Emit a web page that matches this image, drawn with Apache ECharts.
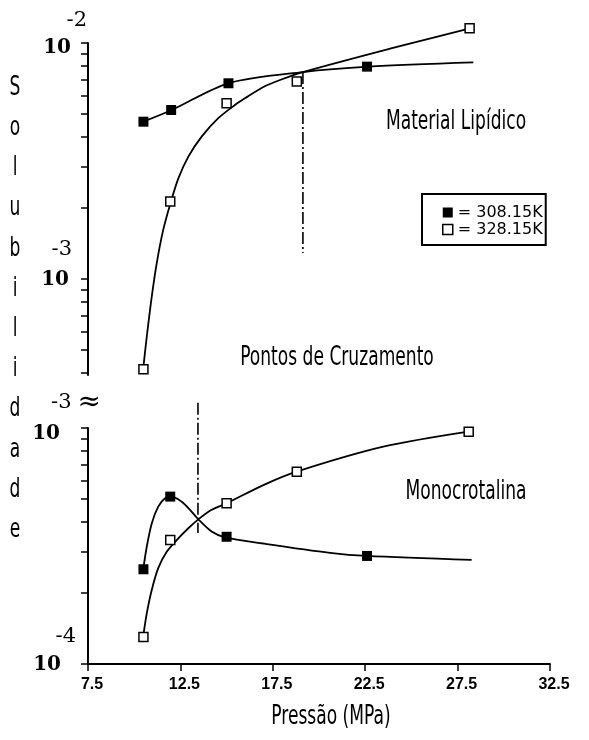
<!DOCTYPE html>
<html><head><meta charset="utf-8">
<script src="https://cdn.jsdelivr.net/npm/echarts@6/dist/echarts.min.js"></script>
<style>html,body{margin:0;padding:0;background:#fff}#c{width:589px;height:740px}</style>
</head><body><div id="c"></div>
<script>
// ---- data ----
const xTickValues = [7.5, 12.5, 17.5, 22.5, 27.5, 32.5];
const seriesNames = ['308.15K', '328.15K'];

// Material Lipídico (upper panel) — measured points
const lipPressure308 = [10.5, 12.0, 15.1, 22.6];
const lipSol308      = [4.64e-3, 5.20e-3, 6.75e-3, 7.94e-3];
const lipPressure328 = [10.5, 11.95, 15.0, 18.8, 28.15];
const lipSol328      = [4.14e-4, 2.13e-3, 5.55e-3, 6.86e-3, 1.154e-2];
// Material Lipídico — fitted curves
const lipCurveP308 = [10.49, 12.03, 15.09, 19.13, 22.67, 28.35];
const lipCurveS308 = [4.64e-3, 5.20e-3, 6.75e-3, 7.53e-3, 7.94e-3, 8.28e-3];
const lipCurveP328 = [10.49, 10.68, 10.95, 11.22, 11.57, 11.99, 12.39, 12.93, 13.65, 14.55, 15.45, 15.99, 16.99, 17.89, 19.13, 23.84, 28.17];
const lipCurveS328 = [4.19e-4, 5.69e-4, 8.41e-4, 1.167e-3, 1.614e-3, 2.13e-3, 2.67e-3, 3.30e-3, 4.01e-3, 4.80e-3, 5.46e-3, 5.83e-3, 6.51e-3, 6.97e-3, 7.53e-3, 9.46e-3, 1.154e-2];

// Monocrotalina (lower panel) — measured points
const monoPressure308 = [10.5, 11.95, 15.0, 22.6];
const monoSol308      = [2.52e-4, 5.12e-4, 3.46e-4, 2.87e-4];
const monoPressure328 = [10.5, 11.95, 15.0, 18.8, 28.1];
const monoSol328      = [1.30e-4, 3.35e-4, 4.80e-4, 6.53e-4, 9.65e-4];
// Monocrotalina — fitted curves
const monoCurveP308 = [10.49, 10.68, 10.95, 11.30, 11.67, 12.03, 12.57, 13.02, 13.47, 14.19, 14.91, 16.99, 20.60, 22.58, 28.26];
const monoCurveS308 = [2.52e-4, 3.14e-4, 3.94e-4, 4.64e-4, 5.04e-4, 5.12e-4, 4.87e-4, 4.50e-4, 4.10e-4, 3.64e-4, 3.44e-4, 3.24e-4, 2.96e-4, 2.87e-4, 2.76e-4];
const monoCurveP328 = [10.49, 10.68, 10.95, 11.30, 11.76, 12.30, 12.93, 13.47, 14.19, 15.01, 16.99, 18.79, 23.48, 28.08];
const monoCurveS328 = [1.315e-4, 1.64e-4, 2.06e-4, 2.55e-4, 2.99e-4, 3.35e-4, 3.76e-4, 4.10e-4, 4.50e-4, 4.80e-4, 5.73e-4, 6.53e-4, 8.33e-4, 9.65e-4];

// crossover (dash-dot) lines
const lipCrossP = [19.13, 19.13];
const lipCrossS = [7.53e-3, 1.29e-3];
const monoCrossP = [13.45, 13.45];
const monoCrossS = [1.28e-3, 3.59e-4];

// y-axis ticks
const upperTicks = [4e-4, 5e-4, 6e-4, 7e-4, 8e-4, 9e-4, 1e-3, 2e-3, 3e-3, 4e-3, 5e-3, 6e-3, 7e-3, 8e-3, 9e-3, 1e-2];
const upperLabels = [1e-3, 1e-2];
const lowerTicks = [1e-4, 2e-4, 3e-4, 4e-4, 5e-4, 6e-4, 7e-4, 8e-4, 9e-4, 1e-3];
const lowerLabels = [1e-4, 1e-3];

// ---- chart ----
const narrow = '"DejaVu Sans Condensed", "Liberation Sans Narrow", sans-serif';
const serifB = { fontFamily: 'DejaVu Serif', fontWeight: 'bold', fontSize: 20, color: '#000', align: 'right' };
const serifE = { fontFamily: 'DejaVu Serif', fontSize: 21, color: '#000', align: 'right' };
const rs = (base, extra) => Object.assign({}, base, extra);

const zip = (xs, ys) => xs.map((x, i) => [x, ys[i]]);

function curve(idx, xs, ys, smooth) {
  return {
    type: 'line', xAxisIndex: idx, yAxisIndex: idx,
    data: zip(xs, ys), smooth, symbol: 'none',
    lineStyle: { color: '#000', width: 1.8 }, clip: false, z: 2,
    silent: true, animation: false
  };
}
function markers(name, idx, xs, ys, hollow) {
  return {
    name, type: 'scatter', xAxisIndex: idx, yAxisIndex: idx,
    data: zip(xs, ys), symbol: 'rect', symbolSize: hollow ? 9 : 10,
    itemStyle: hollow ? { color: '#fff', borderColor: '#000', borderWidth: 1.5, opacity: 1 } : { color: '#000', opacity: 1 },
    clip: false, z: hollow ? 3 : 4, silent: true, animation: false
  };
}
function crossLine(idx, xs, ys) {
  return {
    type: 'line', xAxisIndex: idx, yAxisIndex: idx,
    data: zip(xs, ys), symbol: 'none', clip: false,
    lineStyle: { color: '#000', width: 1.6, type: [12, 3, 2, 3] },
    silent: true, animation: false, z: 1
  };
}
const textEl = (x, y, text, extra) => ({
  type: 'text', x, y, scaleY: 1.4,
  style: Object.assign({ text, font: '19px ' + narrow, fill: '#000', align: 'center', verticalAlign: 'middle' }, extra || {})
});

const chart = echarts.init(document.getElementById('c'), null, { renderer: 'canvas' });
chart.setOption({
  backgroundColor: '#fff',
  animation: false,
  grid: [
    { left: 88, top: 43, width: 462, height: 332 },
    { left: 88, top: 428, width: 462, height: 236 }
  ],
  xAxis: [
    { gridIndex: 0, type: 'value', min: 7.5, max: 32.5, show: false },
    { gridIndex: 1, type: 'value', min: 7.5, max: 32.5,
      axisLine: { show: true, lineStyle: { color: '#000', width: 2 } },
      axisTick: { show: true, length: 7, customValues: xTickValues, lineStyle: { color: '#000', width: 1.5 } },
      axisLabel: { customValues: xTickValues, margin: 13, padding: [0, 0, 0, 8],
        fontFamily: 'Liberation Sans', fontWeight: 'bold', fontSize: 16, color: '#000',
        formatter: v => v.toFixed(1) },
      splitLine: { show: false } }
  ],
  yAxis: [
    { gridIndex: 0, type: 'log', logBase: 10, min: 3.918e-4, max: 0.01,
      axisLine: { show: true, lineStyle: { color: '#000', width: 2 } },
      axisTick: { show: true, length: 7, customValues: upperTicks, lineStyle: { color: '#000', width: 1.5 } },
      splitLine: { show: false }, minorTick: { show: false },
      axisLabel: { customValues: upperLabels, margin: 1,
        formatter: v => v > 5e-3 ? '{e2|-2}\n{b2|10}' : '{e3|-3}\n{b3|10}',
        rich: {
          e2: rs(serifE, { lineHeight: 10 }),
          b2: rs(serifB, { lineHeight: 44, padding: [0, 16, 0, 0] }),
          e3: rs(serifE, { lineHeight: 1, padding: [0, 15, 0, 0] }),
          b3: rs(serifB, { lineHeight: 58, padding: [0, 18, 0, 0] })
        } } },
    { gridIndex: 1, type: 'log', logBase: 10, min: 1e-4, max: 1e-3,
      axisLine: { show: true, lineStyle: { color: '#000', width: 2 } },
      axisTick: { show: true, length: 7, customValues: lowerTicks, lineStyle: { color: '#000', width: 1.5 } },
      splitLine: { show: false }, minorTick: { show: false },
      axisLabel: { customValues: lowerLabels, margin: -13,
        formatter: v => v > 5e-4 ? '{e3|-3}{brk|≈}\n{b3|10}' : '{e4|-4}\n{b4|10}',
        rich: {
          e3: rs(serifE, { lineHeight: 12 }),
          brk: rs(serifE, { fontSize: 28, lineHeight: 12, padding: [0, 0, 0, 6] }),
          b3: rs(serifB, { lineHeight: 50, padding: [0, 41, 0, 0] }),
          e4: rs(serifE, { lineHeight: 1, padding: [0, 25, 0, 0] }),
          b4: rs(serifB, { lineHeight: 54, padding: [0, 40, 0, 0] })
        } } }
  ],
  legend: {
    orient: 'vertical', left: 422, top: 194,
    padding: [10, 3, 7, 20], itemGap: 0, itemWidth: 10, itemHeight: 10,
    borderColor: '#000', borderWidth: 2, borderRadius: 0,
    selectedMode: false,
    formatter: n => '= ' + n,
    textStyle: { fontFamily: 'DejaVu Sans', fontSize: 16, color: '#000', lineHeight: 17 },
    data: [
      { name: seriesNames[0], icon: 'rect', itemStyle: { color: '#000', borderWidth: 0 } },
      { name: seriesNames[1], icon: 'rect', itemStyle: { color: '#fff', borderColor: '#000', borderWidth: 1.5 } }
    ]
  },
  graphic: [
    textEl(456, 122, 'Material Lipídico'),
    textEl(337, 358, 'Pontos de Cruzamento'),
    textEl(466, 492, 'Monocrotalina'),
    textEl(331, 717, 'Pressão (MPa)'),
    textEl(15, 309, 'Solubilidade'.split('').join('\n'), { lineHeight: 28.7 })
  ],
  series: [
    crossLine(0, lipCrossP, lipCrossS),
    crossLine(1, monoCrossP, monoCrossS),
    curve(0, lipCurveP308, lipCurveS308, 0.3),
    curve(0, lipCurveP328, lipCurveS328, 0.3),
    curve(1, monoCurveP308, monoCurveS308, 0.3),
    curve(1, monoCurveP328, monoCurveS328, 0.3),
    markers(seriesNames[0], 0, lipPressure308, lipSol308, false),
    markers(seriesNames[1], 0, lipPressure328, lipSol328, true),
    markers(seriesNames[0], 1, monoPressure308, monoSol308, false),
    markers(seriesNames[1], 1, monoPressure328, monoSol328, true)
  ]
});
</script>
</body></html>
